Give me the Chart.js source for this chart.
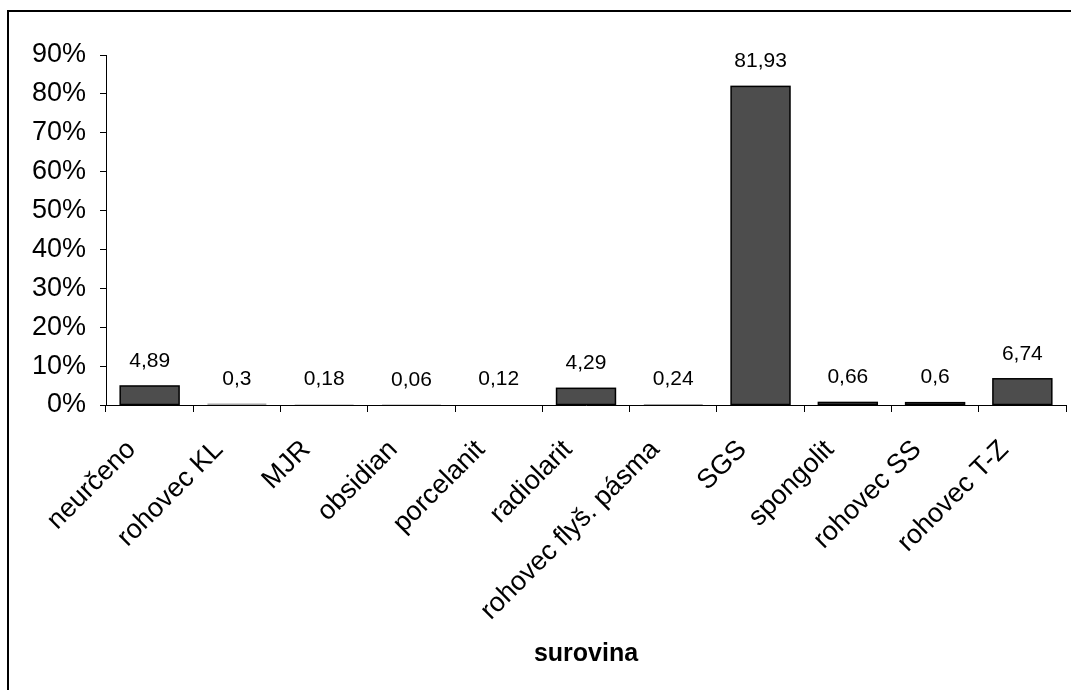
<!DOCTYPE html>
<html>
<head>
<meta charset="utf-8">
<script src="https://cdn.jsdelivr.net/npm/chart.js@4"></script>
<style>
  html, body { margin: 0; padding: 0; background: #ffffff; }
  #wrap { width: 1071px; height: 690px; position: relative; }
</style>
</head>
<body>
<div id="wrap"><canvas id="c" width="1071" height="690"></canvas></div>
<script>
// Share of raw materials (%)
const categories = ['neurčeno', 'rohovec KL', 'MJR', 'obsidian', 'porcelanit', 'radiolarit',
  'rohovec flyš. pásma', 'SGS', 'spongolit', 'rohovec SS', 'rohovec T-Z'];
const shares = [4.89, 0.3, 0.18, 0.06, 0.12, 4.29, 0.24, 81.93, 0.66, 0.6, 6.74];
const yTicks = [0, 10, 20, 30, 40, 50, 60, 70, 80, 90];
const axisTitle = 'surovina';

const FONT = '"Liberation Sans", Arial, sans-serif';

// Outer frame (top and left edges)
const framePlugin = {
  id: 'frame',
  beforeDraw(chart) {
    const ctx = chart.ctx;
    ctx.save();
    ctx.fillStyle = '#ffffff';
    ctx.fillRect(0, 0, chart.width, chart.height);
    ctx.fillStyle = '#000000';
    ctx.fillRect(7, 10, chart.width - 7, 2);
    ctx.fillRect(7, 10, 2, chart.height - 10);
    ctx.restore();
  }
};

// Black outline around each bar (kept visible even on very short bars),
// then the value label above it with a decimal comma
const barDecor = {
  id: 'barDecor',
  afterDatasetsDraw(chart) {
    const ctx = chart.ctx;
    const meta = chart.getDatasetMeta(0);
    ctx.save();
    ctx.strokeStyle = '#000000';
    ctx.lineWidth = 1.5;
    meta.data.forEach(bar => {
      const h = bar.base - bar.y;
      if (h >= 1) {
        ctx.strokeRect(bar.x - bar.width / 2, bar.y, bar.width, h);
      }
    });
    ctx.font = '21px ' + FONT;
    ctx.fillStyle = '#000000';
    ctx.textAlign = 'center';
    ctx.textBaseline = 'middle';
    meta.data.forEach((bar, i) => {
      const txt = String(shares[i]).replace('.', ',');
      ctx.fillText(txt, bar.x, bar.y - 25);
    });
    ctx.restore();
  }
};

new Chart(document.getElementById('c'), {
  type: 'bar',
  data: {
    labels: categories,
    datasets: [{
      data: shares,
      backgroundColor: '#4d4d4d',
      borderWidth: 0,
      categoryPercentage: 1.0,
      barPercentage: 0.675
    }]
  },
  options: {
    responsive: false,
    animation: false,
    devicePixelRatio: 1,
    layout: { padding: { top: 55, right: 5, left: 0, bottom: 0 } },
    plugins: {
      legend: { display: false },
      tooltip: { enabled: false }
    },
    scales: {
      x: {
        grid: {
          drawOnChartArea: false,
          drawTicks: true,
          tickLength: 7,
          tickColor: '#000000',
          tickWidth: 1,
          offset: true
        },
        border: { display: true, color: '#000000', width: 1 },
        ticks: {
          color: '#000000',
          font: { family: FONT, size: 27 },
          minRotation: 45,
          maxRotation: 45,
          autoSkip: false,
          padding: 22,
          labelOffset: -18
        },
        title: {
          display: true,
          text: axisTitle,
          color: '#000000',
          font: { family: FONT, size: 25, weight: 'bold', lineHeight: 1.2 },
          padding: { top: 0, bottom: 21 }
        },
        afterFit(scale) { scale.height = 285; }
      },
      y: {
        min: 0,
        max: 90,
        afterBuildTicks(scale) { scale.ticks = yTicks.map(v => ({ value: v })); },
        grid: {
          drawOnChartArea: false,
          drawTicks: true,
          tickLength: 6,
          tickColor: '#000000',
          tickWidth: 1
        },
        border: { display: true, color: '#000000', width: 1 },
        ticks: {
          color: '#000000',
          font: { family: FONT, size: 27 },
          padding: 14,
          callback: v => v + '%'
        },
        afterFit(scale) { scale.width = 106; }
      }
    }
  },
  plugins: [framePlugin, barDecor]
});
</script>
</body>
</html>
